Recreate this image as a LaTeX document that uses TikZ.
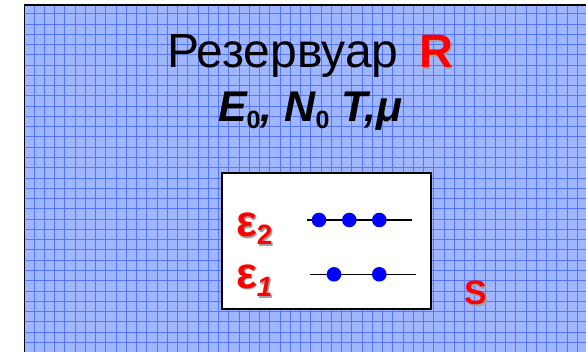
\documentclass[tikz,border=0pt]{standalone}
\usepackage{fontspec}
\setmainfont{Liberation Sans}
\definecolor{resfill}{HTML}{A0B6FF}
\definecolor{resgrid}{HTML}{5577FF}
\definecolor{lvlblue}{HTML}{0000FF}
\definecolor{txtred}{HTML}{FF0000}
\definecolor{shadowgrey}{HTML}{A0A0A0}
\begin{document}
\begin{tikzpicture}[x=1pt,y=-1pt,
  plain/.style={inner sep=0pt, outer sep=0pt},
  redtxt/.style={plain, text=txtred},
  shadowtxt/.style={plain, text=shadowgrey},
  gridline/.style={resgrid, line width=0.9pt},
  lvl/.style={line width=1.3pt, black},
  particle/.style={circle, fill=lvlblue, inner sep=0pt, minimum size=14.6pt},
  bigfont/.style={font=\fontsize{48}{48}\selectfont},
  epsfont/.style={font=\bfseries\fontsize{44}{44}\selectfont}]
\useasboundingbox (0,0) rectangle (586,352);
\fill[white] (0,0) rectangle (586,352);
% reservoir background with grid
\begin{scope}
  \clip (24,5) rectangle (586,352);
  \fill[resfill] (24,5) rectangle (586,352);
  \foreach \i in {0,...,53} \draw[gridline] (34+\i*10.25,5) -- (34+\i*10.25,352);
  \foreach \j in {0,...,33} \draw[gridline] (24,13.7+\j*10.27) -- (586,13.7+\j*10.27);
  \draw[line width=2.5pt] (24,400) -- (24,5) -- (620,5);
\end{scope}
% title
\node[plain, anchor=base west, bigfont] (title) at (167,68) {Резервуар};
\node[shadowtxt, anchor=base west, font=\bfseries\fontsize{47}{47}\selectfont] (Rsh) at (420.5,69.5) {R};
\node[redtxt, anchor=base west, font=\bfseries\fontsize{47}{47}\selectfont] (R) at (419,68) {R};
\node[plain, anchor=base west, font=\bfseries\itshape\fontsize{43}{43}\selectfont] (params) at (218,121.7)
  {E\raisebox{-6.6pt}{\upshape\fontsize{25}{25}\selectfont 0}, N\raisebox{-6.6pt}{\upshape\fontsize{25}{25}\selectfont 0} T,μ};
% system box
\node[plain, draw, line width=2pt, fill=white, minimum width=208.4pt, minimum height=136.6pt] (box) at (326.5,241) {};
% levels
\coordinate (l2a) at (306.7,220);
\coordinate (l2b) at (411.7,220);
\coordinate (l1a) at (310,274.3);
\coordinate (l1b) at (416,274.3);
\draw[lvl] (l2a) -- (l2b);
\draw[lvl] (l1a) -- (l1b);
\node[particle] (p21) at (319,220) {};
\node[particle] (p22) at (349.3,220) {};
\node[particle] (p23) at (379.3,220) {};
\node[particle] (p11) at (334,274.3) {};
\node[particle] (p12) at (379.3,274.3) {};
% level labels
\node[shadowtxt, anchor=base west, epsfont] (e2sh) at (237.5,238.2) {ε\raisebox{-8.3pt}{\fontsize{28}{28}\selectfont 2}};
\node[redtxt, anchor=base west, epsfont] (e2) at (236,236.7) {ε\raisebox{-8.3pt}{\fontsize{28}{28}\selectfont 2}};
\node[shadowtxt, anchor=base west, epsfont] (e1sh) at (237.5,289.8) {ε\raisebox{-8.4pt}{\itshape\fontsize{28}{28}\selectfont 1}};
\node[redtxt, anchor=base west, epsfont] (e1) at (236,288.3) {ε\raisebox{-8.4pt}{\itshape\fontsize{28}{28}\selectfont 1}};
% system label
\node[shadowtxt, anchor=base west, font=\bfseries\fontsize{34}{34}\selectfont] (Ssh) at (465.5,306.5) {S};
\node[redtxt, anchor=base west, font=\bfseries\fontsize{34}{34}\selectfont] (S) at (464,305) {S};
\end{tikzpicture}
\end{document}
